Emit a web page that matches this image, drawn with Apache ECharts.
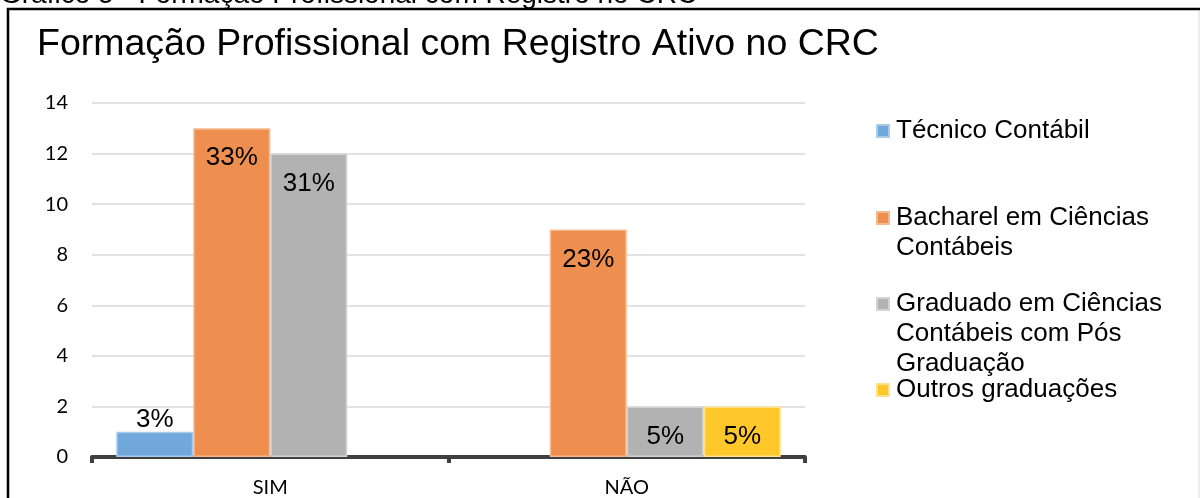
<!DOCTYPE html>
<html>
<head>
<meta charset="utf-8">
<script src="https://cdn.jsdelivr.net/npm/echarts@6/dist/echarts.min.js"></script>
<style>
  html, body { margin: 0; padding: 0; background: #fff; }
  #chart { width: 1200px; height: 498px; }
</style>
</head>
<body>
<div id="chart"></div>
<script>
const categories = ["SIM", "NÃO"];
const seriesNames = [
  "Técnico Contábil",
  "Bacharel em Ciências Contábeis",
  "Graduado em Ciências Contábeis com Pós Graduação",
  "Outros graduações",
];
// how the legend breaks each name into lines
const legendLines = [
  ["Técnico Contábil"],
  ["Bacharel em Ciências", "Contábeis"],
  ["Graduado em Ciências", "Contábeis com Pós", "Graduação"],
  ["Outros graduações"],
];
const tecnico = [1, 0];
const bacharel = [13, 9];
const graduado = [12, 2];
const outros = [0, 2];
const tecnicoLabels = ["3%", ""];
const bacharelLabels = ["33%", "23%"];
const graduadoLabels = ["31%", "5%"];
const outrosLabels = ["", "5%"];
const yTicks = [0, 2, 4, 6, 8, 10, 12, 14];

const colors = ["#70a8dc", "#ef8f4f", "#b2b2b2", "#ffc82a"];
const borders = ["#a8cbec", "#f6b88e", "#d2d2d2", "#ffe08c"];
const values = [tecnico, bacharel, graduado, outros];
const labels = [tecnicoLabels, bacharelLabels, graduadoLabels, outrosLabels];

const font = "'Liberation Sans', Arial, sans-serif";

let myChart = echarts.init(document.getElementById("chart"));

let series = values.map((vals, i) => ({
  name: seriesNames[i],
  type: "bar",
  barGap: "0%",
  barCategoryGap: "13.6%",
  itemStyle: { color: colors[i], borderColor: borders[i], borderWidth: 1.5 },
  label: {
    show: true,
    position: "insideTop",
    distance: 17,
    fontFamily: font,
    fontSize: 26,
    color: "#000",
    formatter: (p) => labels[i][p.dataIndex],
  },
  data: vals.map((v, j) => {
    if (v === 0) {
      return { value: v, itemStyle: { borderWidth: 0 } };
    }
    // small bar: the label sits above it
    if (v < 2) {
      return { value: v, label: { position: "top", distance: -1 } };
    }
    return v;
  }),
}));

// one legend per item so the icon lines up with the first text line
let legendTops = [116, 173, 229, 375];
let legends = legendLines.map((lines, i) => {
  let pad = [];
  for (let k = 1; k < lines.length; k++) pad.push("\u00a0");
  let text = pad.concat(lines).join("\n");
  return {
    orient: "vertical",
    left: 876,
    top: legendTops[i],
    padding: 0,
    itemWidth: 12,
    itemHeight: 12,
    icon: "rect",
    selectedMode: false,
    data: [seriesNames[i]],
    formatter: () => text,
    textStyle: { fontFamily: font, fontSize: 26, lineHeight: 30, color: "#000", padding: [0, 0, 0, 2] },
  };
});

let option = {
  animation: false,
  color: colors,
  title: [
    {
      text: "Gráfico 5 - Formação Profissional com Registro no CRC",
      left: 0,
      top: -19,
      padding: 0,
      textStyle: { fontFamily: font, fontSize: 28, fontWeight: "normal", color: "#000" },
    },
    {
      text: "Formação Profissional com Registro Ativo no CRC",
      left: 37,
      top: 26,
      padding: 0,
      textStyle: { fontFamily: font, fontSize: 37.5, fontWeight: "normal", color: "#000" },
    },
  ],
  legend: legends,
  grid: { left: 92, right: 395, top: 103, bottom: 37 },
  xAxis: {
    type: "category",
    data: categories,
    axisLine: { lineStyle: { color: "#404040", width: 4 } },
    axisTick: { show: true, length: 6, lineStyle: { color: "#404040", width: 4 } },
    axisLabel: { fontFamily: "Lato, sans-serif", fontSize: 20, color: "#000", margin: 21 },
  },
  yAxis: {
    type: "value",
    min: yTicks[0],
    max: yTicks[yTicks.length - 1],
    interval: 2,
    axisLine: { show: false },
    axisTick: { show: false },
    axisLabel: { fontFamily: "Lato, sans-serif", fontSize: 20, color: "#000", margin: 24 },
    splitLine: { lineStyle: { color: "#d9d9d9", width: 1.5 } },
  },
  graphic: [
    {
      type: "rect",
      shape: { x: 8, y: 9, width: 1200, height: 510 },
      style: { fill: "none", stroke: "#000", lineWidth: 2.5 },
      silent: true,
    },
    {
      type: "line",
      shape: { x1: 1199, y1: 11, x2: 1199, y2: 498 },
      style: { stroke: "#d9d9d9", lineWidth: 1 },
      silent: true,
    },
  ],
  series: series,
};

myChart.setOption(option);
window.addEventListener("resize", () => {
  myChart.resize();
});
</script>
</body>
</html>
